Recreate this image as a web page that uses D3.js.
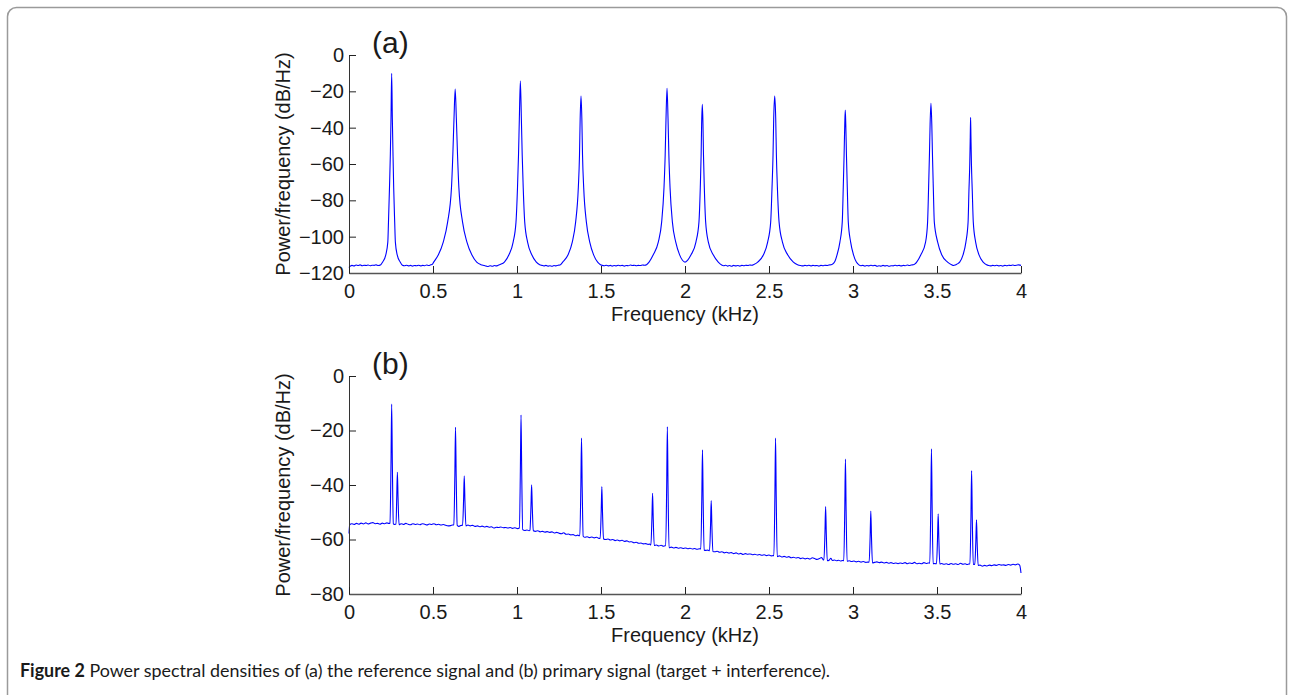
<!DOCTYPE html>
<html>
<head>
<meta charset="utf-8">
<script src="https://cdn.jsdelivr.net/npm/d3@7"></script>
<style>
  body { margin: 0; background: #fff; }
  svg text { font-family: "Liberation Sans", Arial, Helvetica, sans-serif; fill: #1a1a1a; }
  .caption { font-family: Lato, "Open Sans", sans-serif; }
</style>
</head>
<body>
<svg id="chart" width="1294" height="695"></svg>
<script>
// ---- data ----
const freqTicks = [0, 0.5, 1, 1.5, 2, 2.5, 3, 3.5, 4];
const dbTicksA = [-120, -100, -80, -60, -40, -20, 0];
const dbTicksB = [-80, -60, -40, -20, 0];
const xLabel = 'Frequency (kHz)';
const yLabel = 'Power/frequency (dB/Hz)';
const captionBold = 'Figure 2';
const captionText = ' Power spectral densities of (a) the reference signal and (b) primary signal (target + interference).';

// (a) reference signal PSD: [kHz, dB/Hz]
const spectrumA = [
  [0.000,-117.0],[0.008,-116.2],[0.018,-115.8],[0.030,-116.1],[0.042,-115.6],[0.054,-115.9],[0.066,-115.5],[0.078,-116.0],
  [0.090,-115.7],[0.102,-115.9],[0.114,-115.6],[0.126,-116.0],[0.138,-115.7],[0.150,-115.8],[0.162,-115.5],[0.174,-115.9],[0.187,-115.6],
  [0.200,-114.0],[0.219,-110],[0.231,-103],[0.235,-92],[0.241,-73],[0.246,-55],[0.250,-35],[0.254,-10.1],[0.258,-35],[0.262,-55],
  [0.266,-73],[0.272,-92],[0.276,-103],[0.287,-110],[0.305,-114],[0.318,-115.7],
  [0.330,-116.0],[0.342,-115.7],[0.354,-116.1],[0.366,-115.8],[0.378,-116.2],[0.390,-115.9],[0.402,-116.0],[0.414,-115.7],
  [0.426,-116.1],[0.438,-115.8],[0.450,-116.0],[0.462,-115.6],[0.474,-115.9],[0.486,-115.5],
  [0.496,-115.2],[0.504,-114.0],[0.532,-110],[0.561,-103],[0.587,-92],[0.610,-73],[0.618,-55],[0.625,-35],[0.632,-18.7],
  [0.639,-35],[0.646,-55],[0.654,-73],[0.676,-92],[0.702,-103],[0.731,-110],[0.760,-114],[0.785,-115.4],[0.805,-115.9],
  [0.817,-116.2],[0.829,-116.4],[0.841,-116.0],[0.853,-116.3],[0.865,-115.9],[0.877,-116.1],[0.889,-115.7],
  [0.900,-115.3],[0.925,-114],[0.952,-110],[0.977,-103],[0.994,-92],[1.003,-73],[1.009,-55],[1.014,-35],[1.020,-14.3],
  [1.026,-35],[1.031,-55],[1.037,-73],[1.046,-92],[1.063,-103],[1.088,-110],[1.115,-114],[1.135,-115.4],[1.148,-115.8],
  [1.160,-116.1],[1.172,-115.8],[1.184,-116.2],[1.196,-116.0],[1.208,-116.3],[1.220,-115.9],[1.232,-116.1],[1.244,-115.7],[1.256,-115.6],
  [1.272,-114],[1.304,-110],[1.329,-103],[1.349,-92],[1.365,-73],[1.372,-55],[1.376,-35],[1.381,-22.6],[1.386,-35],
  [1.390,-55],[1.397,-73],[1.413,-92],[1.433,-103],[1.456,-110],[1.480,-114],[1.495,-115.3],[1.507,-115.8],
  [1.519,-116.0],[1.531,-115.7],[1.543,-116.1],[1.555,-115.8],[1.567,-116.2],[1.579,-115.9],[1.591,-116.1],[1.603,-115.7],
  [1.615,-116.0],[1.627,-115.8],[1.639,-116.2],[1.651,-115.9],[1.663,-116.0],[1.675,-115.6],[1.687,-115.9],[1.699,-115.7],
  [1.711,-116.0],[1.723,-115.8],[1.735,-115.9],[1.747,-115.6],[1.759,-115.7],[1.771,-115.4],
  [1.786,-114],[1.811,-110],[1.841,-103],[1.861,-92],[1.875,-73],[1.882,-55],[1.887,-35],[1.893,-18.3],[1.899,-35],
  [1.904,-55],[1.911,-73],[1.925,-92],[1.945,-103],[1.968,-110],[1.985,-113],[2.000,-114.0],
  [2.015,-113.0],[2.036,-110],[2.065,-103],[2.083,-92],[2.091,-73],[2.096,-55],[2.099,-38],[2.103,-27.2],[2.107,-38],
  [2.110,-55],[2.115,-73],[2.123,-92],[2.139,-103],[2.168,-110],[2.198,-114],[2.218,-115.6],
  [2.230,-116.0],[2.242,-115.7],[2.254,-116.2],[2.266,-115.9],[2.278,-116.3],[2.290,-115.8],[2.302,-116.1],[2.314,-115.9],
  [2.326,-116.2],[2.338,-115.8],[2.350,-116.0],[2.362,-115.7],[2.374,-115.9],[2.386,-115.6],[2.398,-115.7],
  [2.410,-115.3],[2.433,-114],[2.467,-110],[2.492,-103],[2.510,-92],[2.518,-73],[2.524,-55],[2.528,-35],[2.534,-22.6],
  [2.540,-35],[2.544,-55],[2.550,-73],[2.560,-92],[2.580,-103],[2.611,-110],[2.645,-114],[2.670,-115.4],[2.689,-115.9],
  [2.701,-116.1],[2.713,-115.8],[2.725,-116.0],[2.737,-115.7],[2.749,-116.1],[2.761,-115.8],[2.773,-116.0],[2.785,-115.9],
  [2.797,-116.2],[2.809,-115.8],[2.821,-116.0],[2.833,-115.7],[2.845,-115.9],[2.857,-115.6],[2.869,-115.5],
  [2.880,-115.0],[2.890,-114],[2.905,-110],[2.922,-103],[2.936,-92],[2.942,-73],[2.947,-55],[2.951,-38],[2.954,-30.3],
  [2.957,-38],[2.961,-55],[2.966,-73],[2.972,-92],[2.986,-103],[3.003,-110],[3.020,-114],[3.035,-115.5],
  [3.047,-116.0],[3.059,-115.8],[3.071,-116.2],[3.083,-115.9],[3.095,-116.1],[3.107,-115.7],[3.119,-116.0],[3.131,-115.8],
  [3.143,-116.3],[3.155,-116.0],[3.167,-116.2],[3.179,-115.8],[3.191,-116.1],[3.203,-115.9],[3.215,-116.3],[3.227,-116.0],
  [3.239,-116.1],[3.251,-115.7],[3.263,-116.0],[3.275,-115.8],[3.287,-116.1],[3.299,-115.8],[3.311,-116.0],[3.323,-115.6],
  [3.335,-115.9],[3.347,-115.6],[3.359,-115.5],
  [3.369,-115.0],[3.379,-114],[3.404,-110],[3.432,-103],[3.444,-92],[3.450,-73],[3.455,-55],[3.459,-38],[3.464,-26.6],
  [3.469,-38],[3.473,-55],[3.478,-73],[3.484,-92],[3.504,-103],[3.528,-110],[3.563,-114],[3.587,-115.5],
  [3.599,-115.9],[3.609,-115.6],
  [3.617,-115.2],[3.635,-114],[3.655,-110],[3.672,-103],[3.685,-92],[3.690,-75],[3.695,-60],[3.698,-45],[3.700,-34.3],
  [3.702,-45],[3.705,-60],[3.710,-75],[3.716,-92],[3.730,-103],[3.750,-110],[3.775,-114],[3.795,-115.5],
  [3.807,-115.9],[3.819,-116.1],[3.831,-115.8],[3.843,-116.0],[3.855,-115.7],[3.867,-116.1],[3.879,-115.9],[3.891,-116.2],
  [3.903,-115.8],[3.915,-116.0],[3.927,-115.7],[3.939,-115.9],[3.951,-115.6],[3.963,-115.9],[3.975,-115.7],[3.987,-115.5],[4.000,-115.8]
];

// (b) primary signal PSD: [kHz, dB/Hz]
const spectrumB = [
  [0.000,-57.8],[0.004,-54.6],[0.016,-54.2],[0.030,-54.5],[0.044,-54.1],[0.058,-54.4],[0.072,-54.0],[0.086,-54.3],[0.100,-53.9],
  [0.114,-54.3],[0.128,-54.0],[0.142,-53.8],[0.156,-54.2],[0.170,-54.1],[0.184,-54.4],[0.198,-54.0],[0.212,-54.2],[0.226,-53.9],[0.238,-54.1],
  [0.244,-54.0],[0.250,-32.0],[0.254,-10.3],[0.258,-32.0],[0.264,-54.3],[0.270,-54.5],[0.276,-54.4],
  [0.280,-54.4],[0.284,-44.9],[0.288,-35.3],[0.292,-44.9],[0.298,-54.6],
  [0.310,-54.2],[0.324,-54.5],[0.338,-54.1],[0.352,-54.4],[0.366,-54.6],[0.380,-54.2],[0.394,-54.5],[0.408,-54.3],[0.422,-54.6],
  [0.436,-54.2],[0.450,-54.4],[0.464,-54.7],[0.478,-54.3],[0.492,-54.5],[0.506,-54.2],[0.520,-54.6],[0.534,-54.4],[0.548,-54.7],
  [0.562,-54.5],[0.576,-54.8],[0.590,-55.0],[0.604,-54.9],[0.616,-54.7],
  [0.624,-54.6],[0.630,-36.7],[0.634,-18.8],[0.638,-36.7],[0.644,-54.8],[0.652,-55.2],[0.664,-54.9],[0.672,-54.8],
  [0.676,-54.8],[0.682,-45.7],[0.686,-36.6],[0.690,-45.7],[0.696,-55.0],
  [0.708,-54.7],[0.722,-55.0],[0.736,-54.8],[0.750,-55.2],[0.764,-55.0],[0.778,-55.3],[0.792,-55.1],[0.806,-55.4],[0.820,-55.2],
  [0.834,-55.5],[0.848,-55.3],[0.862,-55.8],[0.876,-55.5],[0.890,-55.6],[0.904,-55.4],[0.918,-55.7],[0.932,-55.6],[0.946,-55.8],
  [0.960,-55.6],[0.974,-55.9],[0.988,-55.7],[1.004,-56.0],
  [1.014,-55.8],[1.020,-35.0],[1.024,-14.3],[1.028,-35.0],[1.034,-56.4],[1.046,-56.7],[1.060,-56.5],[1.072,-56.8],
  [1.077,-56.6],[1.083,-48.2],[1.087,-39.9],[1.091,-48.2],[1.097,-56.8],
  [1.110,-57.0],[1.124,-56.8],[1.138,-57.2],[1.152,-57.0],[1.166,-57.3],[1.180,-57.1],[1.194,-57.4],[1.208,-57.2],[1.222,-57.6],
  [1.236,-57.4],[1.250,-57.7],[1.264,-57.9],[1.278,-57.5],[1.292,-58.1],[1.306,-58.0],[1.320,-58.3],[1.334,-58.2],[1.348,-58.6],[1.362,-58.4],[1.370,-58.6],
  [1.374,-58.6],[1.380,-40.7],[1.384,-22.8],[1.388,-40.7],[1.394,-58.8],
  [1.404,-59.2],[1.418,-59.0],[1.432,-59.3],[1.446,-59.1],[1.460,-59.4],[1.474,-59.2],[1.488,-59.6],
  [1.495,-59.6],[1.501,-50.1],[1.505,-40.6],[1.509,-50.1],[1.515,-59.8],
  [1.528,-60.0],[1.542,-59.8],[1.556,-60.2],[1.570,-60.0],[1.584,-60.4],[1.598,-60.2],[1.612,-60.5],[1.626,-60.3],[1.640,-60.7],
  [1.654,-60.5],[1.668,-60.9],[1.682,-60.8],[1.696,-61.2],[1.710,-61.0],[1.724,-61.4],[1.738,-61.3],[1.752,-61.6],[1.766,-61.5],
  [1.780,-61.8],[1.790,-61.7],
  [1.797,-62.0],[1.803,-52.5],[1.807,-43.0],[1.811,-52.5],[1.817,-62.2],
  [1.830,-62.0],[1.844,-62.4],[1.858,-62.1],[1.872,-62.5],[1.881,-62.3],
  [1.885,-62.3],[1.891,-40.5],[1.895,-18.6],[1.899,-40.5],[1.905,-63.0],
  [1.918,-62.8],[1.932,-63.1],[1.946,-62.9],[1.960,-63.2],[1.974,-63.0],[1.988,-63.3],[2.002,-63.1],[2.016,-63.4],[2.030,-63.2],
  [2.044,-63.5],[2.058,-63.3],[2.072,-63.6],[2.086,-63.4],
  [2.094,-63.5],[2.100,-45.3],[2.104,-27.1],[2.108,-45.3],[2.114,-63.9],[2.124,-64.0],[2.136,-63.9],
  [2.146,-64.1],[2.152,-54.9],[2.156,-45.7],[2.160,-54.9],[2.166,-64.4],
  [2.178,-64.5],[2.192,-64.3],[2.206,-64.7],[2.220,-64.5],[2.234,-64.9],[2.248,-64.7],[2.262,-65.0],[2.276,-64.8],[2.290,-65.2],
  [2.304,-64.9],[2.318,-65.3],[2.332,-65.1],[2.346,-65.5],[2.360,-65.2],[2.374,-65.4],[2.388,-65.3],[2.402,-65.6],[2.416,-65.4],
  [2.430,-65.7],[2.444,-65.5],[2.458,-65.8],[2.472,-65.6],[2.486,-65.9],[2.500,-65.7],[2.514,-66.0],[2.524,-65.9],
  [2.529,-65.9],[2.535,-44.4],[2.539,-22.8],[2.543,-44.4],[2.549,-66.3],
  [2.562,-66.0],[2.576,-66.4],[2.590,-66.2],[2.604,-66.5],[2.618,-66.3],[2.632,-66.7],[2.646,-66.5],[2.660,-66.8],[2.674,-66.6],
  [2.688,-67.0],[2.702,-66.8],[2.716,-67.1],[2.730,-66.9],[2.744,-67.2],[2.758,-66.7],[2.772,-67.0],[2.786,-67.3],[2.800,-67.0],
  [2.812,-66.6],[2.822,-67.4],
  [2.827,-67.5],[2.833,-57.7],[2.837,-47.9],[2.841,-57.7],[2.847,-67.8],
  [2.858,-67.6],[2.868,-66.9],[2.878,-67.7],[2.890,-67.5],[2.902,-67.8],[2.914,-67.6],[2.926,-67.9],[2.938,-67.7],
  [2.945,-67.8],[2.951,-49.2],[2.955,-30.5],[2.959,-49.2],[2.965,-68.0],
  [2.978,-67.8],[2.992,-68.1],[3.006,-67.9],[3.020,-68.2],[3.034,-68.0],[3.048,-68.3],[3.062,-68.1],[3.076,-68.4],[3.088,-68.3],
  [3.096,-68.3],[3.102,-59.0],[3.106,-49.6],[3.110,-59.0],[3.116,-68.6],
  [3.128,-68.4],[3.142,-68.2],[3.156,-68.5],[3.170,-68.3],[3.184,-68.6],[3.198,-68.4],[3.212,-68.7],[3.226,-68.5],[3.240,-68.8],
  [3.254,-68.6],[3.268,-68.9],[3.282,-68.6],[3.296,-68.8],[3.310,-68.5],[3.324,-68.9],[3.338,-68.6],[3.352,-68.8],[3.366,-68.4],
  [3.380,-68.9],[3.394,-68.7],[3.408,-68.9],[3.422,-68.5],[3.436,-68.8],[3.448,-68.6],
  [3.457,-68.7],[3.463,-47.7],[3.467,-26.7],[3.471,-47.7],[3.477,-68.9],[3.487,-68.8],[3.493,-68.9],
  [3.497,-68.9],[3.503,-59.8],[3.507,-50.6],[3.511,-59.8],[3.517,-69.0],
  [3.528,-68.8],[3.542,-69.1],[3.556,-68.9],[3.570,-69.2],[3.584,-68.8],[3.598,-69.1],[3.612,-68.9],[3.626,-69.2],[3.640,-68.7],
  [3.654,-69.1],[3.668,-68.9],[3.680,-69.2],[3.690,-69.0],
  [3.696,-69.0],[3.702,-51.9],[3.706,-34.7],[3.710,-51.9],[3.716,-69.2],[3.721,-69.1],
  [3.725,-69.2],[3.731,-61.0],[3.735,-52.8],[3.739,-61.0],[3.745,-69.5],
  [3.756,-69.4],[3.770,-69.8],[3.784,-69.5],[3.798,-69.7],[3.812,-69.4],[3.826,-69.6],[3.840,-69.3],[3.854,-69.5],[3.868,-69.2],
  [3.882,-69.4],[3.896,-69.3],[3.910,-69.5],[3.924,-69.2],[3.938,-69.4],[3.952,-69.1],[3.966,-69.3],[3.980,-69.0],[3.992,-69.4],[4.000,-72.3]
];

// ---- layout ----
const svg = d3.select('#chart');
const plotLeft = 349, plotRight = 1021;

svg.append('rect')
  .attr('x', 7.5).attr('y', 7.5)
  .attr('width', 1279).attr('height', 740)
  .attr('rx', 9)
  .attr('fill', 'none')
  .attr('stroke', '#9a9a9a')
  .attr('stroke-width', 1.5);

const x = d3.scaleLinear().domain([0, 4]).range([plotLeft, plotRight]);

const panels = [
  { name: '(a)', data: spectrumA, ticks: dbTicksA, domain: [-120, 0], top: 55, bottom: 273 },
  { name: '(b)', data: spectrumB, ticks: dbTicksB, domain: [-80, 0], top: 376, bottom: 594 },
];

panels.forEach(p => {
  const y = d3.scaleLinear().domain(p.domain).range([p.bottom, p.top]);
  const g = svg.append('g');

  const line = d3.line()
    .x(d => x(d[0]))
    .y(d => y(d[1]))
    .curve(d3.curveMonotoneX);

  g.append('path')
    .datum(p.data)
    .attr('d', line)
    .attr('fill', 'none')
    .attr('stroke', '#0000ff')
    .attr('stroke-width', 1.1)
    .attr('stroke-linejoin', 'round');

  const yAxis = g.append('g')
    .attr('transform', `translate(${plotLeft},0)`)
    .call(d3.axisLeft(y).tickValues(p.ticks).tickSize(-7).tickSizeOuter(0).tickPadding(5).tickFormat(d3.format('d')));

  const xAxis = g.append('g')
    .attr('transform', `translate(0,${p.bottom})`)
    .call(d3.axisBottom(x).tickValues(freqTicks).tickSize(-7).tickSizeOuter(0).tickPadding(11).tickFormat(d3.format('~g')));

  [yAxis, xAxis].forEach(a => {
    a.selectAll('text').attr('font-size', 20).attr('fill', '#1a1a1a')
      .style('font-family', '"Liberation Sans", Arial, sans-serif');
    a.selectAll('line').attr('stroke', '#222');
    a.select('.domain').attr('stroke', '#333');
  });
  xAxis.select('.domain').attr('stroke', '#555').attr('stroke-width', 1.6);

  g.append('text')
    .attr('x', (plotLeft + plotRight) / 2)
    .attr('y', p.bottom + 48)
    .attr('text-anchor', 'middle')
    .attr('font-size', 20)
    .text(xLabel);

  g.append('text')
    .attr('transform', `translate(290,${(p.top + p.bottom) / 2}) rotate(-90)`)
    .attr('text-anchor', 'middle')
    .attr('font-size', 20)
    .text(yLabel);

  g.append('text')
    .attr('x', 372)
    .attr('y', p.top - 2)
    .attr('font-size', 30)
    .text(p.name);
});

const cap = svg.append('text')
  .attr('class', 'caption')
  .attr('x', 20)
  .attr('y', 677)
  .attr('font-size', 18)
  .attr('textLength', 810)
  .attr('lengthAdjust', 'spacingAndGlyphs');
cap.append('tspan').attr('font-weight', 'bold').text(captionBold);
cap.append('tspan').text(captionText);
</script>
</body>
</html>
